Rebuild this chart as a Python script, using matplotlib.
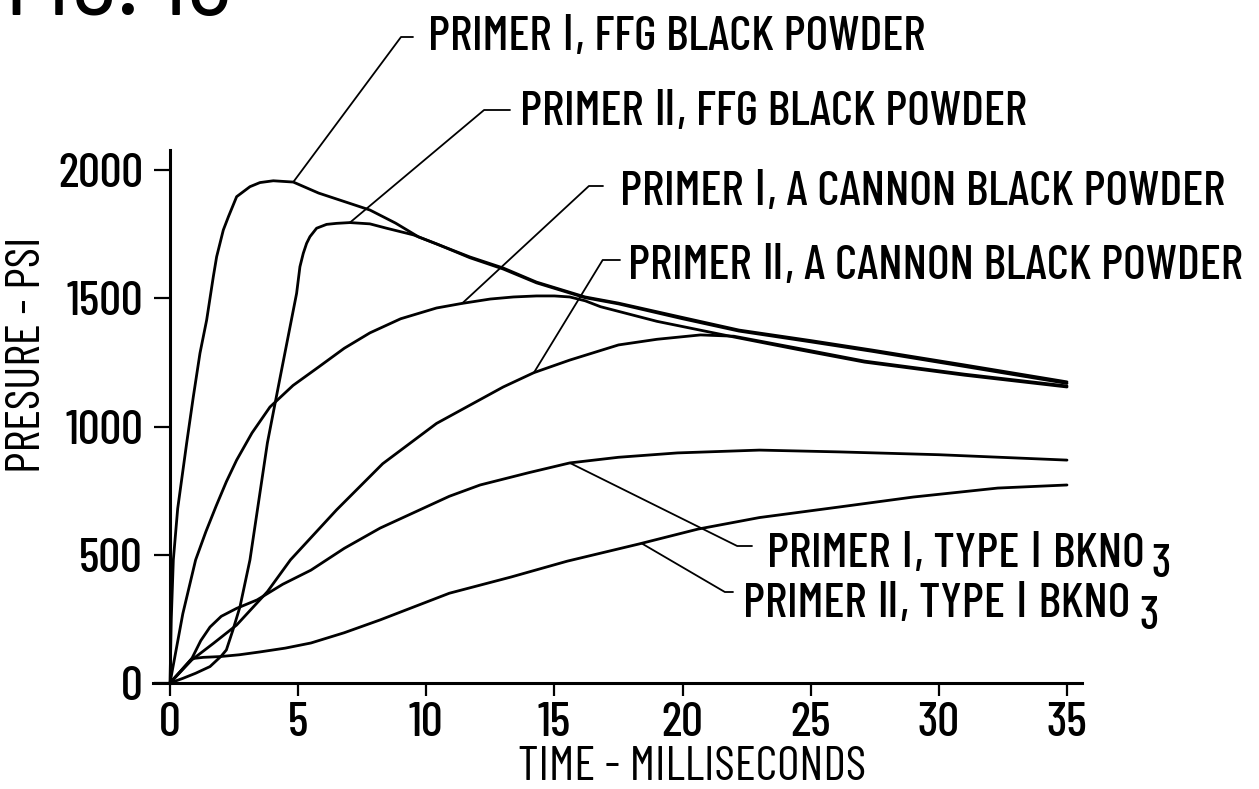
"""FIG. 10 — pressure vs. time, two primers with four powder loads."""
import matplotlib
matplotlib.use("Agg")
import matplotlib.pyplot as plt
import numpy as np
from matplotlib.transforms import IdentityTransform

# --- values (time in ms, pressure in psi) -----------------------------------
t_p1_ffg = [0, 0.05, 0.13, 0.3, 0.65, 0.91, 1.17, 1.43, 1.69, 1.82, 2.08,
            2.28, 2.6, 3.12, 3.51, 4.03, 4.81, 5.8, 6.8, 7.8, 8.8, 9.7, 10.7,
            11.7, 13.0, 14.3, 16.2, 17.5, 20.0, 22.2, 25.0, 27.4, 31.0, 35.0]
psi_p1_ffg = [0, 250, 480, 680, 935, 1116, 1286, 1415, 1584, 1662, 1766,
              1818, 1896, 1935, 1951, 1958, 1953, 1910, 1877, 1844, 1793, 1739, 1700,
              1661, 1618, 1563, 1505, 1481, 1425, 1376, 1335, 1298, 1240, 1174]

t_p2_ffg = [0, 0.5, 1.0, 1.56, 2.0, 2.2, 2.45, 2.73, 3.12, 3.8, 4.3, 4.94,
            5.07, 5.2, 5.33, 5.46, 5.72, 6.11, 6.5, 7.02, 7.8, 8.45, 9.5, 10.4,
            11.7, 13.0, 14.3, 16.2, 17.5, 20.0, 22.2, 25.0, 27.4, 31.0, 35.0]
psi_p2_ffg = [0, 18, 38, 64, 105, 129, 205, 297, 480, 936, 1193, 1519,
              1623, 1675, 1714, 1740, 1773, 1788, 1792, 1795, 1790, 1773, 1747, 1712,
              1658, 1614, 1560, 1502, 1478, 1420, 1372, 1330, 1293, 1234, 1168]

t_p1_cannon = [0, 0.5, 1.0, 1.4, 1.8, 2.2, 2.6, 3.2, 3.9, 4.8, 5.8, 6.8, 7.8,
               9.0, 10.4, 11.4, 12.5, 13.4, 14.3, 15.0, 15.6, 16.2, 16.8, 19.0,
               22.0, 24.5, 27.1, 31.0, 35.0]
psi_p1_cannon = [0, 270, 480, 590, 690, 785, 869, 975, 1076, 1160, 1232, 1305, 1365,
                 1420, 1462, 1480, 1497, 1505, 1509, 1509, 1505, 1490, 1467, 1410,
                 1349, 1300, 1251, 1200, 1154]

t_p2_cannon = [0, 0.85, 1.7, 2.6, 3.8, 4.7, 6.5, 8.3, 10.4, 13.0, 14.2, 15.6,
               17.5, 19.0, 20.7, 22.0, 24.5, 27.1, 31.0, 35.0]
psi_p2_cannon = [0, 90, 155, 226, 356, 480, 675, 855, 1012, 1154, 1210, 1259,
                 1318, 1340, 1357, 1352, 1305, 1255, 1204, 1158]

t_p1_bkno3 = [0, 0.85, 1.2, 1.56, 2.0, 2.6, 3.4, 4.4, 5.5, 6.8, 8.2, 10.9,
              12.1, 14.0, 15.6, 17.5, 19.8, 23.0, 26.1, 30.0, 35.0]
psi_p1_bkno3 = [0, 95, 165, 218, 260, 291, 324, 385, 440, 525, 604, 728,
                772, 820, 858, 880, 897, 908, 901, 890, 869]

t_p2_bkno3 = [0, 0.85, 1.3, 1.95, 2.7, 3.5, 4.5, 5.5, 6.8, 8.2, 10.9, 13.3,
              15.5, 18.3, 20.6, 23.0, 26.1, 29.0, 32.3, 35.0]
psi_p2_bkno3 = [0, 95, 100, 103, 110, 121, 136, 156, 196, 246, 350, 413,
                475, 542, 600, 645, 686, 725, 760, 772]

series = [
    (t_p1_ffg, psi_p1_ffg),
    (t_p2_ffg, psi_p2_ffg),
    (t_p1_cannon, psi_p1_cannon),
    (t_p2_cannon, psi_p2_cannon),
    (t_p1_bkno3, psi_p1_bkno3),
    (t_p2_bkno3, psi_p2_bkno3),
]
labels = [
    "PRIMER Ⅰ, FFG BLACK POWDER",
    "PRIMER Ⅱ, FFG BLACK POWDER",
    "PRIMER Ⅰ, A CANNON BLACK POWDER",
    "PRIMER Ⅱ, A CANNON BLACK POWDER",
    "PRIMER Ⅰ, TYPE Ⅰ BKNO",
    "PRIMER Ⅱ, TYPE Ⅰ BKNO",
]
subscripts = [None, None, None, None, "3", "3"]
# time on each curve where its leader line touches
leader_t = [4.81, 7.02, 11.4, 14.2, 15.6, 18.4]

x_ticks = [0, 5, 10, 15, 20, 25, 30, 35]
y_ticks = [0, 500, 1000, 1500, 2000]

# --- layout (figure pixels, measured from the top-left) ---------------------
W, H = 1259, 789
X0_PX, X35_PX = 170, 1067      # t = 0 / t = 35
Y0_PX, Y2000_PX = 683, 170     # p = 0 / p = 2000
XLIM = (-0.7, 35.7)
YLIM = (-60, 2090)
# text left, text baseline, leader end x, leader y, leader angle (deg)
LABEL_LAYOUT = [
    (428, 50, 413, 37, 53.4),
    (520, 125, 510, 110, 40.0),
    (620, 205, 603, 186, 42.8),
    (628, 279, 620, 260, 58.6),
    (767, 567, 752, 546, -26.4),
    (743, 617, 733, 592, -30.3),
]
# offset of the "3" from the end of its label, points (x, y)
SUB_OFFSET = [None, None, None, None, (5, -0.5), (7, -2.5)]

plt.rcParams["font.family"] = ["Barlow Condensed", "Liberation Sans Narrow",
                               "DejaVu Sans"]
plt.rcParams["font.weight"] = 500
FS = 35

px_t = (X35_PX - X0_PX) / 35.0
px_p = (Y0_PX - Y2000_PX) / 2000.0
left_px = X0_PX + XLIM[0] * px_t
right_px = X0_PX + XLIM[1] * px_t
bottom_px = Y0_PX - YLIM[0] * px_p
top_px = Y0_PX - YLIM[1] * px_p

fig = plt.figure(figsize=(W / 100, H / 100), dpi=100)
ax = fig.add_axes([left_px / W, 1 - bottom_px / H,
                   (right_px - left_px) / W, (bottom_px - top_px) / H])
ax.set_xlim(*XLIM)
ax.set_ylim(*YLIM)

for t, p in series:
    ax.plot(t, p, color="black", lw=2.0, solid_joinstyle="round",
            solid_capstyle="round")

# axes drawn as crossing lines, like the patent drawing
for side in ("top", "right"):
    ax.spines[side].set_visible(False)
ax.spines["left"].set_position(("data", 0))
ax.spines["bottom"].set_position(("data", 0))
ax.spines["left"].set_bounds(0, 2078)
ax.spines["bottom"].set_bounds(-0.65, 35.6)
for side in ("left", "bottom"):
    ax.spines[side].set_linewidth(2.2)
ax.set_xticks(x_ticks)
ax.set_yticks(y_ticks)
ax.tick_params(axis="x", direction="out", length=9.5, width=1.6, pad=4,
               labelsize=FS)
ax.tick_params(axis="y", direction="out", length=11.5, width=1.6, pad=8,
               labelsize=FS)

ax.set_xlabel("TIME - MILLISECONDS", fontsize=FS, va="center")
ax.xaxis.set_label_coords((692 - left_px) / (right_px - left_px),
                          (bottom_px - 768) / (bottom_px - top_px))
ax.set_ylabel("PRESURE - PSI", fontsize=FS, va="center")
ax.yaxis.set_label_coords((28 - left_px) / (right_px - left_px),
                          (bottom_px - 355) / (bottom_px - top_px))

for (t, p), text, sub, lt, (tx, ty, lx, ly, ang), off in zip(
        series, labels, subscripts, leader_t, LABEL_LAYOUT, SUB_OFFSET):
    label = ax.text(tx, H - ty, text, transform=IdentityTransform(),
                    fontsize=FS, ha="left", va="baseline")
    ax.annotate("", xy=(lt, np.interp(lt, t, p)), xycoords="data",
                xytext=(lx, H - ly), textcoords="figure pixels",
                annotation_clip=False,
                arrowprops=dict(arrowstyle="-", lw=1.3, shrinkA=0, shrinkB=0,
                                connectionstyle=f"angle,angleA=180,angleB={ang},rad=0"))
    if sub:
        ax.annotate(sub, xy=(1, 0), xycoords=label, xytext=off,
                    textcoords="offset points", fontsize=FS - 2,
                    ha="left", va="baseline")

fig.text(5 / W, 1 - 15 / H, "FIG. 10", fontsize=76, fontweight=400,
         ha="left", va="baseline")

fig.savefig("out.png", dpi=100)
plt.close(fig)
